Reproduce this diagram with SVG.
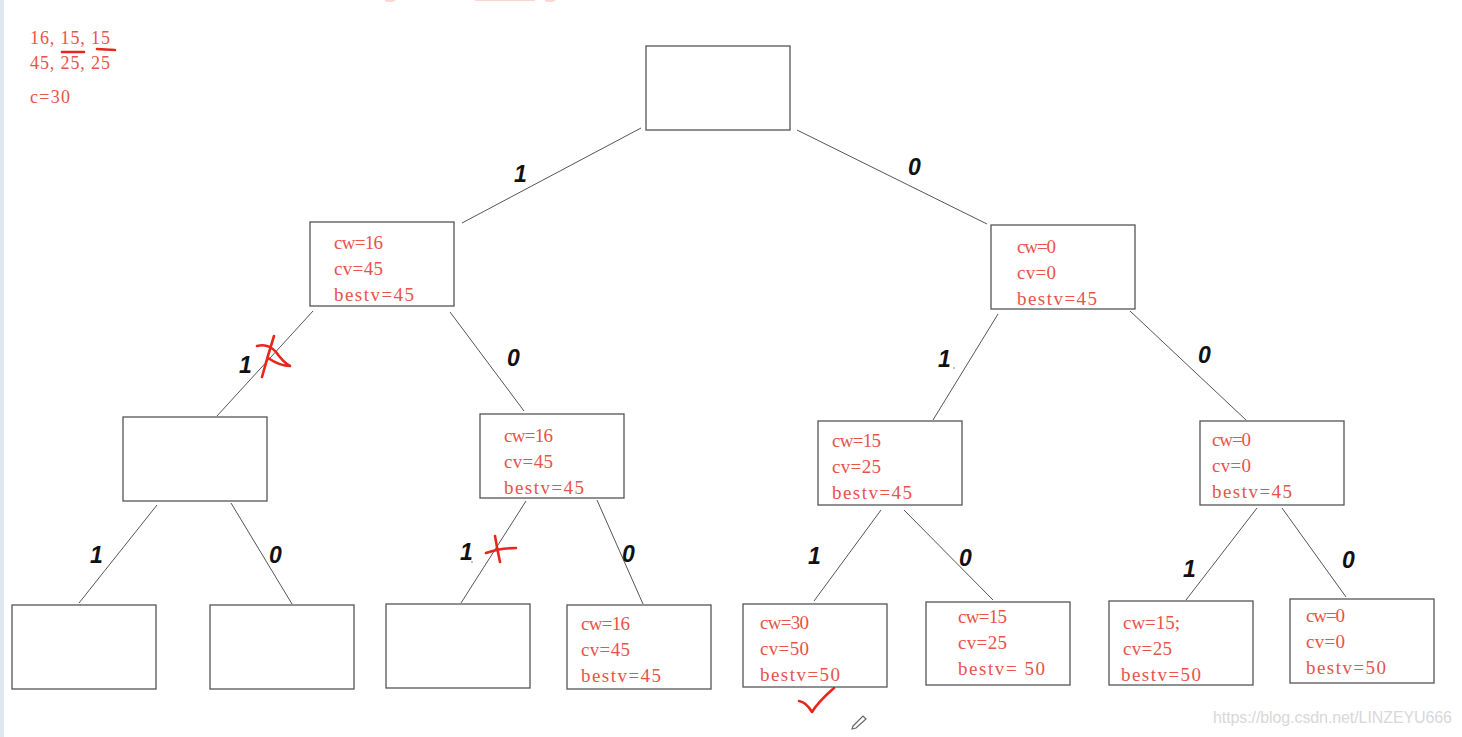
<svg xmlns="http://www.w3.org/2000/svg" width="1462" height="737" viewBox="0 0 1462 737">
<style>
.box{fill:#fff;stroke:#555;stroke-width:1.3}
.t{font-family:"Liberation Serif","Noto Sans CJK SC",serif;font-size:19px;fill:#e8534a}
.g{font-family:"Liberation Serif","Noto Sans CJK SC",serif;font-size:18px;fill:#e8534a}
.lb{font-family:"Liberation Sans",Arial,sans-serif;font-size:23px;font-weight:bold;font-style:italic;fill:#111}
.ln{stroke:#555;stroke-width:1;fill:none}
.mk{stroke:#e8261c;stroke-width:2.6;fill:none;stroke-linecap:round;stroke-linejoin:round}
</style>
<rect width="1462" height="737" fill="#fff"/>
<rect x="0" y="0" width="4" height="737" fill="#dfe7f1"/>
<g id="faint-top">
<path d="M385 0 Q390 2 395 0 M475 0 L535 0 M545 0 Q550 2 555 0" stroke="#fbd6d1" stroke-width="2" fill="none"/>
</g>
<g id="given">
<text class="g" x="30" y="44" textLength="80" lengthAdjust="spacing">16, 15, 15</text>
<text class="g" x="30" y="69" textLength="80" lengthAdjust="spacing">45, 25, 25</text>
<text class="g" x="30" y="103" textLength="40" lengthAdjust="spacing">c=30</text>
<path class="mk" d="M62 52 L84 52 M97 49 L115 50" stroke-width="2.2"/>
</g>
<g id="connectors">
<line class="ln" x1="641" y1="128" x2="462" y2="223"/>
<line class="ln" x1="797" y1="130" x2="987" y2="224"/>
<line class="ln" x1="313" y1="311" x2="217" y2="416"/>
<line class="ln" x1="450" y1="312" x2="524" y2="411"/>
<line class="ln" x1="998" y1="314" x2="933" y2="420"/>
<line class="ln" x1="1130" y1="311" x2="1246" y2="420"/>
<line class="ln" x1="157" y1="505" x2="79" y2="603"/>
<line class="ln" x1="231" y1="503" x2="292" y2="604"/>
<line class="ln" x1="526" y1="501" x2="461" y2="603"/>
<line class="ln" x1="597" y1="500" x2="643" y2="604"/>
<line class="ln" x1="881" y1="510" x2="814" y2="601"/>
<line class="ln" x1="904" y1="510" x2="993" y2="600"/>
<line class="ln" x1="1257" y1="508" x2="1186" y2="600"/>
<line class="ln" x1="1282" y1="508" x2="1346" y2="597"/>
<text class="lb" x="514" y="182">1</text>
<text class="lb" x="908" y="175">0</text>
<text class="lb" x="239" y="373">1</text>
<text class="lb" x="507" y="366">0</text>
<text class="lb" x="938" y="367">1</text>
<text class="lb" x="1198" y="363">0</text>
<text class="lb" x="90" y="563">1</text>
<text class="lb" x="269" y="563">0</text>
<text class="lb" x="460" y="560">1</text>
<text class="lb" x="622" y="562">0</text>
<text class="lb" x="808" y="564">1</text>
<text class="lb" x="959" y="566">0</text>
<text class="lb" x="1183" y="577">1</text>
<text class="lb" x="1342" y="568">0</text>
<circle cx="954" cy="368" r="0.8" fill="#777"/>
<circle cx="472" cy="562" r="0.8" fill="#777"/>
</g>
<g id="marks">
<path class="mk" d="M274 336 Q268 355 262 377 M257 346 Q268 343 276 352 Q283 362 290 366 Q280 366 268 358"/>
<path class="mk" d="M495 536 Q497 548 500 562 M486 553 Q500 548 516 548"/>
<path class="mk" d="M799 701 Q806 702 812 712 Q818 702 834 688"/>
<path d="M853 726 L863 716 L866 719 L856 728 L852 729 Z" fill="#fff" stroke="#666" stroke-width="1.2"/>
</g>
<g id="root"><rect class="box" x="646" y="46" width="144" height="84"/></g>
<g id="n1"><rect class="box" x="310" y="222" width="144" height="84"/>
<text class="t" x="334" y="249" textLength="49">cw=16</text><text class="t" x="334" y="275" textLength="49">cv=45</text><text class="t" x="334" y="301" textLength="80">bestv=45</text></g>
<g id="n0"><rect class="box" x="991" y="225" width="144" height="84"/>
<text class="t" x="1017" y="253" textLength="39">cw=0</text><text class="t" x="1017" y="279" textLength="39">cv=0</text><text class="t" x="1017" y="305" textLength="80">bestv=45</text></g>
<g id="n11"><rect class="box" x="123" y="417" width="144" height="84"/></g>
<g id="n10"><rect class="box" x="480" y="414" width="144" height="84"/>
<text class="t" x="504" y="442" textLength="49">cw=16</text><text class="t" x="504" y="468" textLength="49">cv=45</text><text class="t" x="504" y="494" textLength="80">bestv=45</text></g>
<g id="n01"><rect class="box" x="818" y="421" width="144" height="84"/>
<text class="t" x="832" y="447" textLength="49">cw=15</text><text class="t" x="832" y="473" textLength="49">cv=25</text><text class="t" x="832" y="499" textLength="80">bestv=45</text></g>
<g id="n00"><rect class="box" x="1200" y="421" width="144" height="84"/>
<text class="t" x="1212" y="446" textLength="39">cw=0</text><text class="t" x="1212" y="472" textLength="39">cv=0</text><text class="t" x="1212" y="498" textLength="80">bestv=45</text></g>
<g id="n111"><rect class="box" x="12" y="605" width="144" height="84"/></g>
<g id="n110"><rect class="box" x="210" y="605" width="144" height="84"/></g>
<g id="n101"><rect class="box" x="386" y="604" width="144" height="84"/></g>
<g id="n100"><rect class="box" x="567" y="605" width="144" height="84"/>
<text class="t" x="581" y="630" textLength="49">cw=16</text><text class="t" x="581" y="656" textLength="49">cv=45</text><text class="t" x="581" y="682" textLength="80">bestv=45</text></g>
<g id="n011"><rect class="box" x="743" y="604" width="144" height="83"/>
<text class="t" x="760" y="629" textLength="49">cw=30</text><text class="t" x="760" y="655" textLength="49">cv=50</text><text class="t" x="760" y="681" textLength="80">bestv=50</text></g>
<g id="n010"><rect class="box" x="926" y="602" width="144" height="83"/>
<text class="t" x="958" y="623" textLength="49">cw=15</text><text class="t" x="958" y="649" textLength="49">cv=25</text><text class="t" x="958" y="675" textLength="87">bestv= 50</text></g>
<g id="n001"><rect class="box" x="1109" y="601" width="144" height="84"/>
<text class="t" x="1123" y="629" textLength="57">cw=15;</text><text class="t" x="1123" y="655" textLength="49">cv=25</text><text class="t" x="1121" y="681" textLength="80">bestv=50</text></g>
<g id="n000"><rect class="box" x="1290" y="599" width="144" height="84"/>
<text class="t" x="1306" y="622" textLength="39">cw=0</text><text class="t" x="1306" y="648" textLength="39">cv=0</text><text class="t" x="1306" y="674" textLength="80">bestv=50</text></g>
<text x="1213" y="723" font-family="'Liberation Sans',Arial,sans-serif" font-size="16" fill="#d8d8d8" textLength="239">https://blog.csdn.net/LINZEYU666</text>
</svg>
